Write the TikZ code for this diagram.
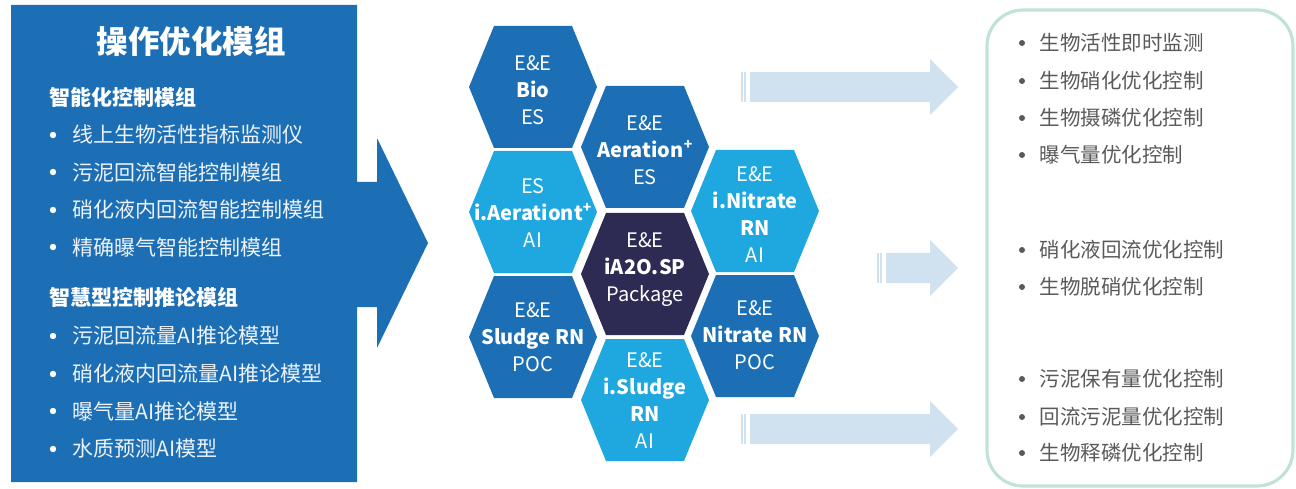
\documentclass[tikz,border=0pt]{standalone}
\usepackage{fontspec}
\setmainfont{Noto Sans CJK SC}
\definecolor{dblue}{HTML}{1C6FB5}
\definecolor{lblue}{HTML}{1FA8DF}
\definecolor{navy}{HTML}{2D2B53}
\definecolor{pale}{HTML}{D0E2F0}
\definecolor{mint}{HTML}{C0E3D6}
\definecolor{gtext}{HTML}{595959}
\definecolor{ltext}{HTML}{EEF3F9}
\newcommand\hexcell[3]{\fill[#3,shift={(#1,#2)}] (-64,0) -- (-39,-61) -- (39,-61) -- (64,0) -- (39,61) -- (-39,61) -- cycle;}
\newcommand\palearrow[2]{%
  \fill[pale] (#1,#2-15) -- (930,#2-15) -- (930,#2-28) -- (958,#2) -- (930,#2+28) -- (930,#2+15) -- (#1,#2+15) -- cycle;
  \fill[pale] (#1-9,#2-15) rectangle (#1-7,#2+15);
  \fill[pale] (#1-6,#2-15) rectangle (#1-4,#2+15);}
\begin{document}
\begin{tikzpicture}[x=1pt,y=-1pt,
  hextext/.style={text=white,align=center,font=\fontsize{20}{27}\selectfont},
  lhead/.style={anchor=west,text=white,font=\fontsize{21}{25}\selectfont\bfseries},
  litem/.style={anchor=west,text=ltext,font=\fontsize{21}{25}\selectfont},
  ritem/.style={anchor=west,text=gtext,font=\fontsize{20.5}{24}\selectfont},
  lbul/.style={fill=white},
  rbul/.style={fill=gtext}]
\useasboundingbox (0,0) rectangle (1296,489);
% left arrow box
\fill[dblue] (11,5) -- (357,5) -- (357,182) -- (377,182) -- (377,138) -- (428,243) -- (377,348) -- (377,307) -- (357,307) -- (357,482) -- (11,482) -- cycle;
\node[text=white,font=\fontsize{31.5}{36}\selectfont\bfseries] (title) at (191,42) {操作优化模组};
\node[lhead] (h1) at (46,97) {智能化控制模组};
\foreach \y/\t [count=\i] in {135/线上生物活性指标监测仪,172/污泥回流智能控制模组,210/硝化液内回流智能控制模组,247/精确曝气智能控制模组}{
  \fill[lbul] (53,\y) circle (3.2);
  \node[litem] (la\i) at (69,\y) {\t};}
\node[lhead] (h2) at (46,297) {智慧型控制推论模组};
\foreach \y/\t [count=\i] in {336/污泥回流量AI推论模型,374/硝化液内回流量AI推论模型,411/曝气量AI推论模型,449/水质预测AI模型}{
  \fill[lbul] (53,\y) circle (3.2);
  \node[litem] (lb\i) at (69,\y) {\t};}
% hexagons
\hexcell{533}{87}{dblue}
\hexcell{645}{147}{dblue}
\hexcell{533}{212}{lblue}
\hexcell{645}{274}{navy}
\hexcell{755}{211}{lblue}
\hexcell{533}{337}{dblue}
\hexcell{755}{336}{dblue}
\hexcell{645}{400}{lblue}
\node[hextext] (bio) at (533,90) {E\&E\\\textbf{Bio}\\ES};
\node[hextext] (aer) at (645,150) {E\&E\\\textbf{Aeration\textsuperscript{+}}\\ES};
\node[hextext] (iaer) at (533,213) {ES\\\textbf{i.Aerationt\textsuperscript{+}}\\AI};
\node[hextext] (pkg) at (645,270) {E\&E\\\textbf{iA2O.SP}\\Package};
\node[hextext] (init) at (755,215) {E\&E\\\textbf{i.Nitrate}\\\textbf{RN}\\AI};
\node[hextext] (slud) at (533,337) {E\&E\\\textbf{Sludge RN}\\POC};
\node[hextext] (nit) at (755,335) {E\&E\\\textbf{Nitrate RN}\\POC};
\node[hextext] (islud) at (645,401) {E\&E\\\textbf{i.Sludge}\\\textbf{RN}\\AI};
% pale arrows
\palearrow{750}{87}
\palearrow{886}{268}
\palearrow{750}{429}
% right box
\draw[mint,line width=3.2pt,rounded corners=36pt] (987,10) rectangle (1293,486);
\foreach \y/\t [count=\i] in {43/生物活性即时监测,81/生物硝化优化控制,118/生物摄磷优化控制,155/曝气量优化控制,250/硝化液回流优化控制,287/生物脱硝优化控制,379/污泥保有量优化控制,417/回流污泥量优化控制,453/生物释磷优化控制}{
  \fill[rbul] (1022,\y) circle (3);
  \node[ritem] (r\i) at (1036,\y) {\t};}
\end{tikzpicture}
\end{document}
